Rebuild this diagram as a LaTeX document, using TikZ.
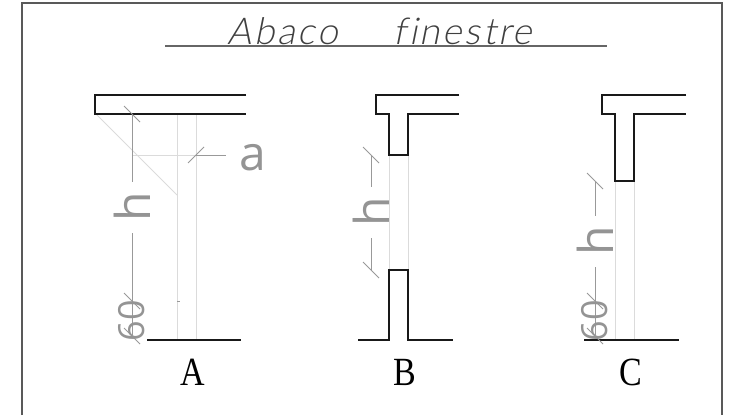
\documentclass[tikz,border=0pt]{standalone}
\usepackage{fontspec}
\setsansfont{Open Sans}
\setmainfont{Liberation Serif}
\newfontfamily\titlefont{Lato Light}[FakeSlant=.2,LetterSpace=7,Ligatures=NoCommon]
\tikzset{
  wall/.style={line width=1.9pt,black!90},
  lightline/.style={line width=1pt,black!14},
  dimline/.style={line width=1pt,black!40},
  graytext/.style={text=black!42,inner sep=0pt},
  lettertext/.style={font=\rmfamily\fontsize{40}{40}\selectfont,inner sep=0pt,xscale=.85},
  titletext/.style={text=black!75,font=\titlefont\fontsize{37}{37}\selectfont,inner sep=0pt},
  bigtext/.style={graytext,font=\sffamily\fontsize{48}{48}\selectfont},
  smalltext/.style={graytext,rotate=90,font=\sffamily\fontsize{36}{36}\selectfont}
}
\begin{document}
\begin{tikzpicture}[x=1pt,y=-1pt]
\useasboundingbox (0,0) rectangle (746,415);
\draw[line width=1.1pt,black!65](22,415)--(22,3)--(722,3)--(722,415);
\node[titletext] (abaco) at (283,31){Abaco};
\node[titletext] (finestre) at (463,31){finestre};
\draw[line width=1.1pt,black!60](165,46)--(607,46);

% A
\draw[lightline](177,114)--(177,340);
\draw[lightline](196,114)--(196,340);
\draw[lightline](96,114)--(177,195);
\draw[lightline](132,155)--(196,155);
\draw[wall](246,95)--(95,95)--(95,114)--(246,114);
\draw[wall](147,340)--(241,340);
\draw[dimline](132,114)--(132,182);
\draw[dimline](132,233)--(132,335);
\draw[dimline](196,155)--(226,155);
\draw[dimline](124,106)--(140,122);
\draw[dimline](188,163)--(204,147);
\draw[dimline](124,293)--(140,309);
\draw[dimline](124,328)--(140,344);
\draw[lightline,black!40](177,301)--(180,301);
\node[bigtext] (a) at (253,158){a};
\node[bigtext,rotate=90] (hA) at (132,207){h};
\node[smalltext] (sixtyA) at (132,321){60};
\node[lettertext] (A) at (193,372){A};

% B
\draw[lightline](389,155)--(389,270);
\draw[lightline](408,155)--(408,270);
\draw[wall](459,95)--(376,95)--(376,114)--(389,114)--(389,155)--(408,155)--(408,114)--(459,114);
\draw[wall](358,340)--(389,340)--(389,270)--(408,270)--(408,340)--(453,340);
\draw[dimline](371,155)--(371,187);
\draw[dimline](371,238)--(371,270);
\draw[dimline](363,147)--(379,163);
\draw[dimline](363,262)--(379,278);
\node[bigtext,rotate=90] (hB) at (371,212){h};
\node[lettertext] (B) at (405,372){B};

% C
\draw[lightline](615,181)--(615,340);
\draw[lightline](634,181)--(634,340);
\draw[wall](686,95)--(602,95)--(602,114)--(615,114)--(615,181)--(634,181)--(634,114)--(686,114);
\draw[wall](584,340)--(679,340);
\draw[dimline](595,181)--(595,216);
\draw[dimline](595,267)--(595,335);
\draw[dimline](587,173)--(603,189);
\draw[dimline](587,293)--(603,309);
\draw[dimline](587,328)--(603,344);
\node[bigtext,rotate=90] (hC) at (595,241){h};
\node[smalltext] (sixtyC) at (595,321){60};
\node[lettertext] (C) at (631,372){C};
\end{tikzpicture}
\end{document}
